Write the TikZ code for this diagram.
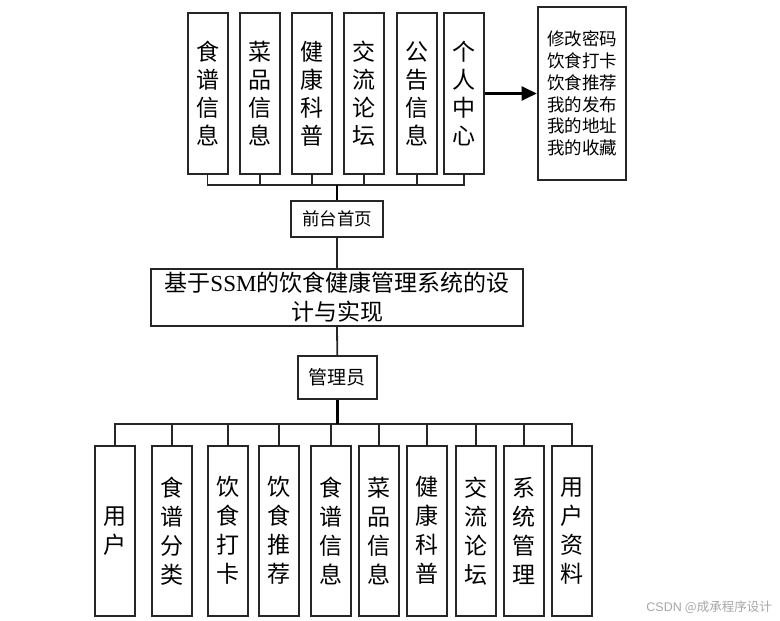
\documentclass[tikz,border=0pt]{standalone}
\usepackage{fontspec}
\setmainfont{Liberation Serif}
\newfontfamily\cjk{Noto Sans CJK SC}
\newfontfamily\wmsans{Liberation Sans}
\usetikzlibrary{arrows.meta}
\definecolor{edge}{HTML}{262626}
\tikzset{
  box/.style={draw=edge, line width=2pt, inner sep=0pt, align=center, text=black},
  topbox/.style={box, minimum width=40pt, minimum height=161.6pt, font=\cjk\fontsize{23}{28}\selectfont},
  botbox/.style={box, minimum width=40pt, minimum height=170pt, font=\cjk\fontsize{23}{29}\selectfont},
  wire/.style={draw=edge, line width=1.8pt},
}
\begin{document}
\begin{tikzpicture}[x=1pt,y=-1pt]
\useasboundingbox (0,0) rectangle (780,621);
% top row
\node[topbox] (t1) at (207.5,93.5) {食\\谱\\信\\息};
\node[topbox] (t2) at (260,93.5) {菜\\品\\信\\息};
\node[topbox] (t3) at (312,93.5) {健\\康\\科\\普};
\node[topbox] (t4) at (364.3,93.5) {交\\流\\论\\坛};
\node[topbox] (t5) at (416.7,93.5) {公\\告\\信\\息};
\node[topbox] (t6) at (464.3,93.5) {个\\人\\中\\心};
\node[box, minimum width=88.6pt, minimum height=173pt, font=\cjk\fontsize{17.5}{21.8}\selectfont] (rb) at (582,93.5)
  {修改密码\\饮食打卡\\饮食推荐\\我的发布\\我的地址\\我的收藏};
\draw[draw=black, line width=2.2pt, -{Triangle[length=15pt,width=14pt]}] (t6.east) -- (rb.west);
% front page
\node[box, minimum width=92pt, minimum height=36.3pt, font=\cjk\fontsize{17.5}{20}\selectfont] (qt) at (337,218.8) {前台首页};
\coordinate (tb) at (337,185.3);
\draw[wire] (t1.south) -- (t1.south |- tb) -- (t6.south |- tb) -- (t6.south);
\foreach \n in {t2,t3,t4,t5} \draw[wire] (\n.south) -- (\n.south |- tb);
\draw[wire, draw=black, line width=2.3pt] (tb) -- (qt.north);
% main title
\node[box, minimum width=372.6pt, minimum height=56.7pt, font=\cjk\fontsize{23}{29}\selectfont] (main) at (337,297.3)
  {基于{\fontspec{Liberation Serif}SSM}的饮食健康管理系统的设\\计与实现};
\draw[wire] (qt.south) -- (main.north);
% admin
\node[box, minimum width=78.7pt, minimum height=43.3pt, font=\cjk\fontsize{19}{22}\selectfont] (gly) at (337.3,377.7) {管理员};
\draw[wire] (main.south) -- (gly.north);
% bottom row
\node[botbox] (b1) at (115,530.7) {用\\户};
\node[botbox] (b2) at (171.7,530.7) {食\\谱\\分\\类};
\node[botbox] (b3) at (228.3,530.7) {饮\\食\\打\\卡};
\node[botbox] (b4) at (279.3,530.7) {饮\\食\\推\\荐};
\node[botbox] (b5) at (330.7,530.7) {食\\谱\\信\\息};
\node[botbox] (b6) at (379.3,530.7) {菜\\品\\信\\息};
\node[botbox] (b7) at (427.2,530.7) {健\\康\\科\\普};
\node[botbox] (b8) at (476,530.7) {交\\流\\论\\坛};
\node[botbox] (b9) at (524,530.7) {系\\统\\管\\理};
\node[botbox] (b10) at (572.3,530.7) {用\\户\\资\\料};
\coordinate (bb) at (337.3,424);
\draw[wire] (b1.north) -- (b1.north |- bb) -- (b10.north |- bb) -- (b10.north);
\foreach \n in {b2,b3,b4,b5,b6,b7,b8,b9} \draw[wire] (\n.north) -- (\n.north |- bb);
\draw[draw=black, line width=3.6pt] (gly.south) -- (bb);
% watermark
\node[text=black!35, font=\fontsize{12.5}{14}\selectfont, anchor=east, inner sep=0pt] (wm) at (772,607)
  {{\wmsans CSDN} {\cjk @成承程序设计}};
\end{tikzpicture}
\end{document}
